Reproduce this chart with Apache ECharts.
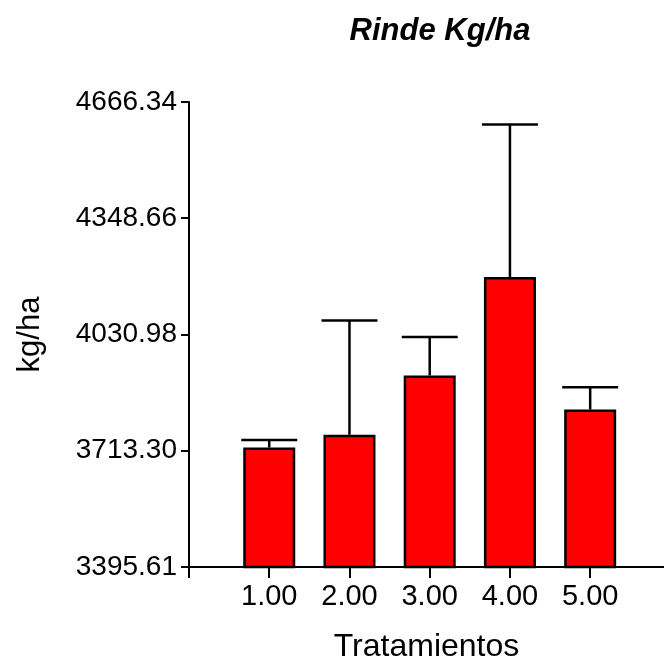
<!DOCTYPE html>
<html>
<head>
<meta charset="utf-8">
<script src="https://cdn.jsdelivr.net/npm/echarts@6/dist/echarts.min.js"></script>
<style>
html,body{margin:0;padding:0;background:#fff;}
#chart{width:664px;height:666px;}
</style>
</head>
<body>
<div id="chart"></div>
<script>
// Data
var categories = [1, 2, 3, 4, 5];
var means = [3722, 3757, 3919, 4188, 3826];
var errors = [21, 312, 105, 417, 61];
var yTicks = [3395.61, 3713.30, 4030.98, 4348.66, 4666.34];
var xTicks = [1, 2, 3, 4, 5];

var barData = categories.map(function (c, i) { return [c, means[i]]; });
var errData = categories.map(function (c, i) { return [c, means[i], means[i] + errors[i]]; });

var chart = echarts.init(document.getElementById('chart'), null, {renderer: 'canvas'});
var FONT = '"Liberation Sans", Arial, sans-serif';

chart.setOption({
  backgroundColor: '#ffffff',
  animation: false,
  title: {
    text: 'Rinde Kg/ha',
    left: 435,
    top: 11,
    textAlign: 'center',
    textStyle: {fontFamily: FONT, fontSize: 31, fontWeight: 'bold', fontStyle: 'italic', color: '#000'}
  },
  grid: {left: 189, right: 0, top: 102, bottom: 99, containLabel: false, outerBoundsMode: 'none'},
  xAxis: {
    type: 'value',
    min: 0,
    max: 5.92,
    name: 'Tratamientos',
    nameLocation: 'middle',
    nameGap: 64,
    nameTextStyle: {fontFamily: FONT, fontSize: 32, color: '#000'},
    splitLine: {show: false},
    axisLine: {show: true, lineStyle: {color: '#000', width: 2}},
    axisTick: {show: true, length: 11, lineStyle: {color: '#000', width: 2}, customValues: [0].concat(xTicks)},
    axisLabel: {
      customValues: xTicks,
      margin: 15,
      fontFamily: FONT, fontSize: 29, color: '#000',
      formatter: function (v) { return v.toFixed(2); }
    }
  },
  yAxis: {
    type: 'value',
    min: yTicks[0],
    max: yTicks[yTicks.length - 1],
    name: 'kg/ha',
    nameLocation: 'middle',
    nameRotate: 90,
    nameGap: 143,
    nameTextStyle: {fontFamily: FONT, fontSize: 31, color: '#000'},
    splitLine: {show: false},
    axisLine: {show: true, lineStyle: {color: '#000', width: 2}},
    axisTick: {show: true, length: 8, lineStyle: {color: '#000', width: 2}, customValues: yTicks},
    axisLabel: {
      customValues: yTicks,
      margin: 12,
      fontFamily: FONT, fontSize: 28, color: '#000',
      formatter: function (v) { return v.toFixed(2); }
    }
  },
  series: [
    {
      type: 'custom',
      z: 1,
      data: errData,
      renderItem: function (params, api) {
        var x = api.value(0);
        var lo = api.coord([x, api.value(1)]);
        var hi = api.coord([x, api.value(2)]);
        var half = 28;
        return {
          type: 'group',
          children: [
            {type: 'line', shape: {x1: hi[0], y1: lo[1], x2: hi[0], y2: hi[1]}, style: {stroke: '#000', lineWidth: 2.5}},
            {type: 'line', shape: {x1: hi[0] - half, y1: hi[1], x2: hi[0] + half, y2: hi[1]}, style: {stroke: '#000', lineWidth: 2.5}}
          ]
        };
      }
    },
    {
      type: 'bar',
      z: 2,
      data: barData,
      barWidth: 52,
      itemStyle: {color: '#ff0000', borderColor: '#000', borderWidth: 2.5}
    }
  ]
});
</script>
</body>
</html>
